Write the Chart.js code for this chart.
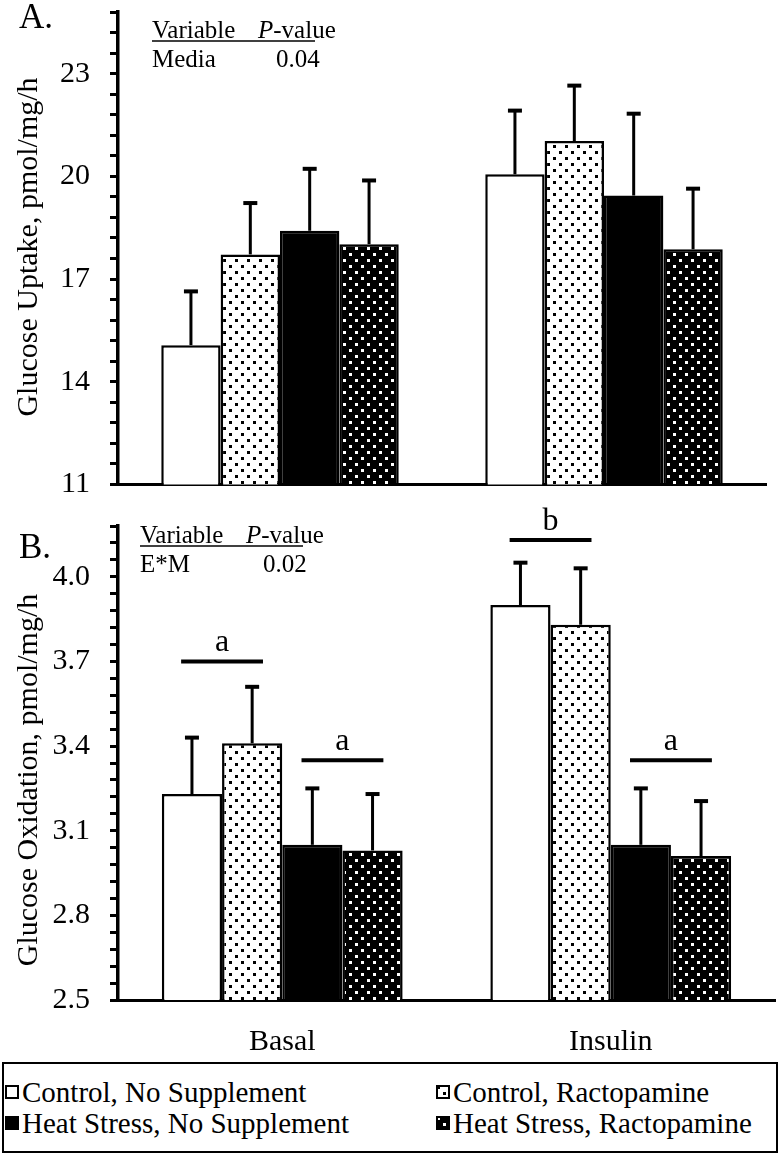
<!DOCTYPE html>
<html>
<head>
<meta charset="utf-8">
<script src="https://cdn.jsdelivr.net/npm/chart.js@4.4.1/dist/chart.umd.min.js"></script>
<style>
  html, body { margin: 0; padding: 0; background: #fff; }
  body { width: 780px; height: 1155px; position: relative; overflow: hidden; font-family: "Liberation Serif", "Times New Roman", serif; color: #000; }
  #chartA { position: absolute; left: 0; top: 0; }
  #chartB { position: absolute; left: 0; top: 492px; }
  #legend { position: absolute; left: 2px; top: 1062px; width: 776px; height: 91px; box-sizing: border-box; border: 2px solid #000; }
  .item { position: absolute; height: 30px; display: flex; align-items: center; font-size: 29px; white-space: nowrap; }
  .item canvas { width: 14px; height: 14px; margin-right: 3px; }
</style>
</head>
<body>
<canvas id="chartA" width="780" height="492"></canvas>
<canvas id="chartB" width="780" height="568"></canvas>
<div id="legend"></div>

<script>
// categories and treatments
const groups = ["Basal", "Insulin"];
const treatments = ["Control, No Supplement", "Control, Ractopamine", "Heat Stress, No Supplement", "Heat Stress, Ractopamine"];

// A. glucose uptake (mean, SEM) per treatment: [Basal, Insulin]
const uptakeControlNoSupp = [15.07, 20.06];
const uptakeControlRac = [17.72, 21.03];
const uptakeHeatNoSupp = [18.41, 19.44];
const uptakeHeatRac = [18.02, 17.87];
const uptakeSemControlNoSupp = [1.57, 1.86];
const uptakeSemControlRac = [1.50, 1.62];
const uptakeSemHeatNoSupp = [1.81, 2.39];
const uptakeSemHeatRac = [1.86, 1.77];

// B. glucose oxidation
const oxControlNoSupp = [3.23, 3.90];
const oxControlRac = [3.41, 3.83];
const oxHeatNoSupp = [3.05, 3.05];
const oxHeatRac = [3.03, 3.01];
const oxSemControlNoSupp = [0.20, 0.15];
const oxSemControlRac = [0.20, 0.20];
const oxSemHeatNoSupp = [0.20, 0.20];
const oxSemHeatRac = [0.20, 0.195];

// significance letters in B (group, first bar of the pair, level)
const sigGroup = [0, 0, 1, 1];
const sigFirstBar = [0, 2, 0, 2];
const sigLevel = [3.70, 3.35, 4.13, 3.35];
const sigLetter = ["a", "a", "b", "a"];

// y axes
const uptakeTickLabels = ["11", "14", "17", "20", "23"];
const uptakeMin = 11, uptakeMax = 24.8, uptakeMinorStep = 0.6;
const oxTickLabels = ["2.5", "2.8", "3.1", "3.4", "3.7", "4.0"];
const oxMin = 2.5, oxMax = 4.18, oxMinorStep = 0.06;

const FONT = "Liberation Serif";
Chart.defaults.font.family = FONT;
Chart.defaults.color = "#000";

// staggered dot fill
function dots(bg, fg) {
  const c = document.createElement("canvas");
  c.width = 12; c.height = 12;
  const g = c.getContext("2d");
  g.fillStyle = bg; g.fillRect(0, 0, 12, 12);
  g.fillStyle = fg;
  g.fillRect(1, 1, 3, 3);
  g.fillRect(7, 7, 3, 3);
  return g.createPattern(c, "repeat");
}
const fills = ["#fff", dots("#fff", "#000"), "#000", dots("#000", "#fff")];

const errorBars = {
  id: "errorBars",
  afterDatasetsDraw(chart, args, opts) {
    const ctx = chart.ctx, y = chart.scales.y;
    ctx.save();
    ctx.strokeStyle = "#000";
    chart.data.datasets.forEach((ds, i) => {
      chart.getDatasetMeta(i).data.forEach((bar, j) => {
        const top = y.getPixelForValue(ds.data[j] + opts.sem[i][j]);
        ctx.lineWidth = 3;
        ctx.beginPath(); ctx.moveTo(bar.x, bar.y); ctx.lineTo(bar.x, top); ctx.stroke();
        ctx.lineWidth = 4;
        ctx.beginPath(); ctx.moveTo(bar.x - 7, top); ctx.lineTo(bar.x + 7, top); ctx.stroke();
      });
    });
    ctx.restore();
  }
};

const sigMarks = {
  id: "sigMarks",
  afterDatasetsDraw(chart, args, opts) {
    if (!opts.on) return;
    const ctx = chart.ctx, y = chart.scales.y;
    ctx.save();
    ctx.strokeStyle = "#000"; ctx.fillStyle = "#000";
    ctx.font = "32px '" + FONT + "'";
    ctx.textAlign = "center"; ctx.textBaseline = "alphabetic";
    sigLetter.forEach((txt, k) => {
      const b0 = chart.getDatasetMeta(sigFirstBar[k]).data[sigGroup[k]];
      const b1 = chart.getDatasetMeta(sigFirstBar[k] + 1).data[sigGroup[k]];
      const cx = (b0.x + b1.x) / 2, half = 0.68 * (b1.x - b0.x);
      const yy = y.getPixelForValue(sigLevel[k]);
      ctx.lineWidth = 4;
      ctx.beginPath(); ctx.moveTo(cx - half, yy); ctx.lineTo(cx + half, yy); ctx.stroke();
      ctx.fillText(txt, cx, yy - 10);
    });
    ctx.restore();
  }
};

// panel letter, stats table and rotated y title
const notes = {
  id: "notes",
  afterDraw(chart, args, o) {
    const ctx = chart.ctx;
    ctx.save();
    ctx.fillStyle = "#000"; ctx.strokeStyle = "#000";
    ctx.textAlign = "left"; ctx.textBaseline = "alphabetic";
    ctx.font = "35px '" + FONT + "'";
    ctx.fillText(o.panel, 19, o.panelY);
    ctx.font = "25px '" + FONT + "'";
    ctx.fillText("Variable", o.tx, o.headY);
    ctx.font = "italic 25px '" + FONT + "'";
    ctx.fillText("P", o.px, o.headY);
    const pw = ctx.measureText("P").width;
    ctx.font = "25px '" + FONT + "'";
    ctx.fillText("-value", o.px + pw, o.headY);
    ctx.lineWidth = 1.5;
    ctx.beginPath(); ctx.moveTo(o.tx, o.headY + 3); ctx.lineTo(o.lineEnd, o.headY + 3); ctx.stroke();
    ctx.fillText(o.variable, o.tx, o.headY + 29);
    ctx.fillText(o.pvalue, o.vx, o.headY + 29);
    ctx.font = "30px '" + FONT + "'";
    ctx.translate(37, o.titleY);
    ctx.rotate(-Math.PI / 2);
    ctx.textAlign = "center";
    ctx.fillText(o.title, 0, 0);
    ctx.restore();
  }
};

function yScale(min, max, step, labels) {
  return {
    min: min, max: max,
    afterBuildTicks(axis) {
      const t = [];
      const n = Math.round((max - min) / step);
      for (let k = 0; k <= n; k++) t.push({ value: +(min + k * step).toFixed(3) });
      axis.ticks = t;
    },
    afterFit(axis) {
      axis.width = 118;
      axis.paddingTop = 0;
      axis.paddingBottom = 0;
    },
    grid: { display: true, drawOnChartArea: false, drawTicks: true, tickLength: 8, color: "#000", lineWidth: 3 },
    border: { display: true, color: "#000", width: 3.5 },
    ticks: {
      autoSkip: false, padding: 20, color: "#000",
      font: { family: FONT, size: 30 },
      callback: (v) => {
        const s = labels.find(l => Math.abs(parseFloat(l) - v) < 1e-6);
        return s === undefined ? "" : s;
      }
    }
  };
}

function makeDatasets(values) {
  return values.map((d, i) => ({
    label: treatments[i],
    data: d,
    backgroundColor: fills[i],
    borderColor: "#000",
    borderWidth: 2.5,
    borderSkipped: "start",
    categoryPercentage: 0.733,
    barPercentage: 1
  }));
}

function xFit(h) {
  return function (axis) {
    axis.height = h;
    axis.paddingLeft = 0;
    axis.paddingRight = 0;
  };
}

const uptakeValues = [uptakeControlNoSupp, uptakeControlRac, uptakeHeatNoSupp, uptakeHeatRac];
const uptakeSems = [uptakeSemControlNoSupp, uptakeSemControlRac, uptakeSemHeatNoSupp, uptakeSemHeatRac];
const oxValues = [oxControlNoSupp, oxControlRac, oxHeatNoSupp, oxHeatRac];
const oxSems = [oxSemControlNoSupp, oxSemControlRac, oxSemHeatNoSupp, oxSemHeatRac];

new Chart(document.getElementById("chartA"), {
  type: "bar",
  data: { labels: groups, datasets: makeDatasets(uptakeValues) },
  options: {
    responsive: false, animation: false, events: [],
    layout: { padding: { top: 12, right: 14, left: 0, bottom: 0 } },
    scales: {
      x: {
        type: "category",
        grid: { display: false },
        border: { display: true, color: "#000", width: 3 },
        ticks: { display: false },
        afterFit: xFit(7.5)
      },
      y: yScale(uptakeMin, uptakeMax, uptakeMinorStep, uptakeTickLabels)
    },
    plugins: {
      legend: { display: false },
      tooltip: { enabled: false },
      errorBars: { sem: uptakeSems },
      sigMarks: { on: false },
      notes: {
        panel: "A.", panelY: 28, tx: 152, px: 258, vx: 276, headY: 38, lineEnd: 315,
        variable: "Media", pvalue: "0.04",
        title: "Glucose Uptake, pmol/mg/h", titleY: 247
      }
    }
  },
  plugins: [errorBars, sigMarks, notes]
});

new Chart(document.getElementById("chartB"), {
  type: "bar",
  data: { labels: groups, datasets: makeDatasets(oxValues) },
  options: {
    responsive: false, animation: false, events: [],
    layout: { padding: { top: 34, right: 5, left: 0, bottom: 0 } },
    scales: {
      x: {
        type: "category",
        grid: { display: false },
        border: { display: true, color: "#000", width: 3 },
        ticks: { color: "#000", padding: 16, font: { family: FONT, size: 30 } },
        afterFit: xFit(60)
      },
      y: yScale(oxMin, oxMax, oxMinorStep, oxTickLabels)
    },
    plugins: {
      legend: { display: false },
      tooltip: { enabled: false },
      errorBars: { sem: oxSems },
      sigMarks: { on: true },
      notes: {
        panel: "B.", panelY: 66, tx: 140, px: 246, vx: 263, headY: 51, lineEnd: 303,
        variable: "E*M", pvalue: "0.02",
        title: "Glucose Oxidation, pmol/mg/h", titleY: 288
      }
    }
  },
  plugins: [errorBars, sigMarks, notes]
});

// legend (2 x 2)
const legendPos = [[5, 1077], [436, 1077], [5, 1108], [436, 1108]];
treatments.forEach((name, i) => {
  const item = document.createElement("div");
  item.className = "item";
  item.style.left = legendPos[i][0] + "px";
  item.style.top = legendPos[i][1] + "px";
  const sw = document.createElement("canvas");
  sw.width = 14; sw.height = 14;
  const g = sw.getContext("2d");
  g.fillStyle = fills[i]; g.fillRect(0, 0, 14, 14);
  g.strokeStyle = "#000"; g.lineWidth = 2; g.strokeRect(1, 1, 12, 12);
  item.appendChild(sw);
  item.appendChild(document.createTextNode(name));
  document.body.appendChild(item);
});
</script>
</body>
</html>
